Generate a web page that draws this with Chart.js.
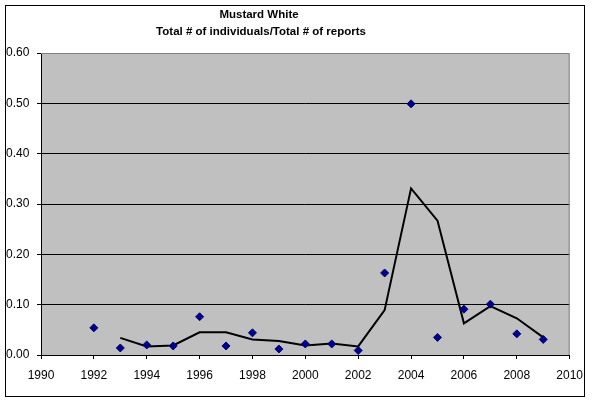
<!DOCTYPE html>
<html>
<head>
<meta charset="utf-8">
<script src="https://cdn.jsdelivr.net/npm/chart.js@4/dist/chart.umd.min.js"></script>
<style>
  html, body { margin: 0; padding: 0; background: #fff; }
  #wrap { width: 592px; height: 403px; }
</style>
</head>
<body>
<div id="wrap"><canvas id="chart" width="592" height="403"></canvas></div>
<script>
// values
const titleLines = ['Mustard White', 'Total # of individuals/Total # of reports'];
const years = [1992, 1993, 1994, 1995, 1996, 1997, 1998, 1999, 2000, 2001, 2002, 2003, 2004, 2005, 2006, 2007, 2008, 2009];
const ratio = [0.054, 0.014, 0.020, 0.018, 0.076, 0.018, 0.044, 0.012, 0.022, 0.022, 0.009, 0.163, 0.499, 0.035, 0.091, 0.101, 0.042, 0.031];
// 2 period moving average line, as drawn
const avgYears = [1993, 1994, 1995, 1996, 1997, 1998, 1999, 2000, 2001, 2002, 2003, 2004, 2005, 2006, 2007, 2008, 2009];
const avgValues = [0.034, 0.017, 0.019, 0.045, 0.045, 0.031, 0.028, 0.019, 0.023, 0.017, 0.089, 0.331, 0.267, 0.063, 0.097, 0.073, 0.035];

const FONT = 'Arial, "Liberation Sans", sans-serif';

// grey plot area, outer frame and the two-line title
const excelLook = {
    id: 'excelLook',
    beforeDraw(chart) {
        const ctx = chart.ctx;
        const a = chart.chartArea;
        ctx.save();
        ctx.fillStyle = '#ffffff';
        ctx.fillRect(0, 0, chart.width, chart.height);
        ctx.fillStyle = '#c0c0c0';
        ctx.fillRect(a.left, a.top, a.right - a.left, a.bottom - a.top);
        ctx.strokeStyle = '#000000';
        ctx.lineWidth = 1;
        ctx.strokeRect(5.5, 5.5, 579, 391);
        ctx.restore();
    },
    beforeDatasetsDraw(chart) {
        const ctx = chart.ctx;
        const a = chart.chartArea;
        ctx.save();
        ctx.strokeStyle = '#808080';
        ctx.lineWidth = 1;
        ctx.beginPath();
        ctx.moveTo(a.left, a.top + 0.5);
        ctx.lineTo(a.right - 0.5, a.top + 0.5);
        ctx.lineTo(a.right - 0.5, a.bottom);
        ctx.stroke();
        ctx.restore();
    },
    afterDraw(chart) {
        const ctx = chart.ctx;
        ctx.save();
        ctx.fillStyle = '#000000';
        ctx.font = 'bold 11.5px ' + FONT;
        ctx.textAlign = 'center';
        ctx.textBaseline = 'middle';
        ctx.fillText(titleLines[0], 259, 15);
        ctx.fillText(titleLines[1], 261, 32);
        ctx.restore();
    }
};

new Chart(document.getElementById('chart'), {
    type: 'scatter',
    data: {
        datasets: [{
            label: 'Ratio',
            data: years.map((y, i) => ({ x: y, y: ratio[i] })),
            pointStyle: 'rectRot',
            pointRadius: 4,
            pointBorderWidth: 1,
            backgroundColor: '#000080',
            borderColor: '#000080',
            showLine: false
        }, {
            label: 'Moving average',
            data: avgYears.map((y, i) => ({ x: y, y: avgValues[i] })),
            showLine: true,
            pointRadius: 0,
            borderColor: '#000000',
            borderWidth: 2,
            tension: 0
        }]
    },
    options: {
        responsive: false,
        devicePixelRatio: 1,
        animation: false,
        layout: { padding: { left: 6, right: 22, top: 53, bottom: 0 } },
        plugins: {
            legend: { display: false },
            title: { display: false },
            tooltip: { enabled: false }
        },
        scales: {
            x: {
                type: 'linear',
                min: 1990,
                max: 2010,
                afterFit(scale) { scale.height = 48; },
                ticks: {
                    stepSize: 2,
                    padding: 9,
                    color: '#000000',
                    font: { family: FONT, size: 12 },
                    maxRotation: 0,
                    callback: v => String(v)
                },
                grid: {
                    drawOnChartArea: false,
                    drawTicks: true,
                    tickLength: 4,
                    tickColor: '#000000'
                },
                border: { color: '#000000', width: 1 }
            },
            y: {
                min: 0,
                max: 0.6,
                afterFit(scale) { scale.width = 35; },
                ticks: {
                    stepSize: 0.1,
                    padding: 4,
                    crossAlign: 'far',
                    color: '#000000',
                    font: { family: FONT, size: 12 },
                    callback: v => v.toFixed(2)
                },
                grid: {
                    color: ctx => (ctx.tick && ctx.tick.value >= 0.6) ? 'rgba(0,0,0,0)' : '#000000',
                    tickColor: '#000000',
                    tickLength: 4,
                    lineWidth: 1
                },
                border: { color: '#000000', width: 1 }
            }
        }
    },
    plugins: [excelLook]
});
</script>
</body>
</html>
